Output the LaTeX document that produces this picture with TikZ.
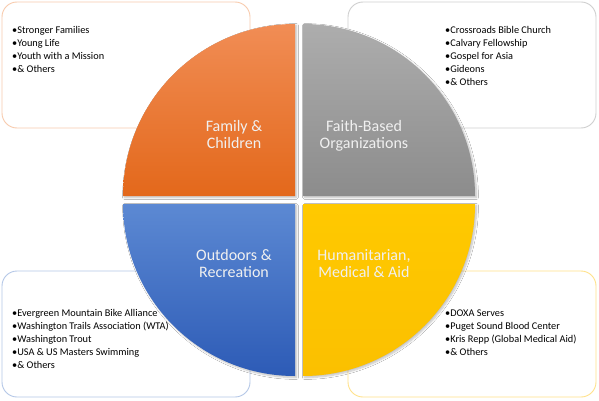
\documentclass[tikz,border=0pt]{standalone}
\usepackage{fontspec}
\setmainfont{Carlito}
\usetikzlibrary{shadows.blur}
\definecolor{orT}{HTML}{F18D55}
\definecolor{orB}{HTML}{E3681B}
\definecolor{grT}{HTML}{ADADAD}
\definecolor{grB}{HTML}{8C8C8C}
\definecolor{blT}{HTML}{5C89D3}
\definecolor{blB}{HTML}{2D5BB6}
\definecolor{yeT}{HTML}{FFC900}
\definecolor{yeB}{HTML}{FBC000}
\definecolor{orL}{HTML}{F8CBAD}
\definecolor{grL}{HTML}{CFCFCF}
\definecolor{blL}{HTML}{B4C7E7}
\definecolor{yeL}{HTML}{FFE28A}
\tikzset{
  listbox/.style={line width=0.9pt, rounded corners=15pt, fill=white},
  quarter/.style={blur shadow={shadow xshift=1.5pt, shadow yshift=-1.5pt, shadow blur steps=6, shadow opacity=25}},
  listtext/.style={anchor=north west, inner sep=0pt, align=left, text=black, font=\fontsize{10.3}{13}\selectfont},
  labeltext/.style={anchor=north, inner sep=0pt, align=center, text=white!94!black, font=\fontsize{16}{17}\selectfont}
}
\begin{document}
\begin{tikzpicture}[x=1pt,y=-1pt]
\useasboundingbox[fill=white] (0,0) rectangle (599,401);
% list boxes
\draw[listbox, draw=orL] (2,2) rectangle (250,128);
\draw[listbox, draw=grL] (348,2) rectangle (596,128);
\draw[listbox, draw=blL] (2,271) rectangle (250,397);
\draw[listbox, draw=yeL] (348,271) rectangle (596,397);
% quarters
\shade[quarter, top color=orT, bottom color=orB] (295,196) -- (123,196) arc[start angle=180, end angle=90, radius=172pt] -- cycle;
\shade[quarter, top color=grT, bottom color=grB] (303,196) -- (303,24) arc[start angle=90, end angle=0, radius=172pt] -- cycle;
\shade[quarter, top color=blT, bottom color=blB] (295,204) -- (123,204) arc[start angle=180, end angle=270, radius=172pt] -- cycle;
\shade[quarter, top color=yeT, bottom color=yeB] (303,204) -- (475,204) arc[start angle=0, end angle=-90, radius=172pt] -- cycle;
% labels
\node[labeltext] (lfam) at (234,120) {Family \&\\Children};
\node[labeltext] (lfai) at (364,120) {Faith-Based\\Organizations};
\node[labeltext] (lout) at (234,249) {Outdoors \&\\Recreation};
\node[labeltext] (lhum) at (364,249) {Humanitarian,\\Medical \& Aid};
% lists
\node[listtext] (tfam) at (12,26.5) {•Stronger Families\\•Young Life\\•Youth with a Mission\\•\& Others};
\node[listtext] (tfai) at (445,26.5) {•Crossroads Bible Church\\•Calvary Fellowship\\•Gospel for Asia\\•Gideons\\•\& Others};
\node[listtext] (tout) at (12,309.5) {•Evergreen Mountain Bike Alliance\\•Washington Trails Association (WTA)\\•Washington Trout\\•USA \& US Masters Swimming\\•\& Others};
\node[listtext] (thum) at (445,309.5) {•DOXA Serves\\•Puget Sound Blood Center\\•Kris Repp (Global Medical Aid)\\•\& Others};
\end{tikzpicture}
\end{document}
